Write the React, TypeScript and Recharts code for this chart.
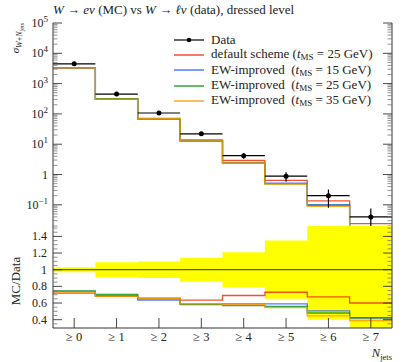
import React from 'react';
import { ComposedChart, Line, Scatter, ErrorBar, XAxis, YAxis, Area, ReferenceLine, Legend } from 'recharts';

const categories = ['≥ 0', '≥ 1', '≥ 2', '≥ 3', '≥ 4', '≥ 5', '≥ 6', '≥ 7'];
const dataValues = [4500, 450, 107, 22, 4.2, 0.88, 0.2, 0.04];
const dataErrUp = [0.03, 0.09, 0.1, 0.145, 0.21, 0.35, 0.6, 0.9];
const dataErrDown = [0.03, 0.09, 0.1, 0.145, 0.21, 0.35, 0.6, 0.9];
const mcDefault25 = [3240, 306, 70.6, 13.97, 2.9, 0.642, 0.135, 0.024];
const mcEW15 = [3330, 310.5, 67.9, 12.98, 2.48, 0.519, 0.101, 0.0168];
const mcEW25 = [3352, 317, 69.5, 12.76, 2.39, 0.493, 0.096, 0.017];
const mcEW35 = [3285, 306, 70.1, 12.98, 2.44, 0.48, 0.089, 0.0156];
const seriesNames = ['default scheme', 'EW-improved', 'EW-improved', 'EW-improved'];
const seriesTms = ['25', '15', '25', '35'];
const seriesColors = ['#ee3311', '#3366ff', '#109618', '#ff9900'];
const title = 'dressed level';

const FONT = '"Liberation Serif", "DejaVu Serif", serif';
const PLOT_L = 53;
const PLOT_R = 392;
const MAIN_TOP = 23;
const MAIN_BOT = 226;
const RATIO_TOP = 1;
const RATIO_BOT = 103;

const mcSeries = [mcDefault25, mcEW15, mcEW25, mcEW35];
const keys = ['s0', 's1', 's2', 's3'];

const stepRows: any[] = [];
const ratioRows: any[] = [];
categories.forEach((_, i) => {
  [i - 0.5, i + 0.5].forEach((x) => {
    const r: any = { x };
    const rr: any = { x };
    mcSeries.forEach((s, k) => {
      r[keys[k]] = s[i];
      rr[keys[k]] = s[i] / dataValues[i];
    });
    rr.band = [1 - dataErrDown[i], 1 + dataErrUp[i]];
    stepRows.push(r);
    ratioRows.push(rr);
  });
});

const dataPoints = categories.map((_, i) => ({
  x: i,
  y: dataValues[i],
  ex: 0.5,
  ey: [dataValues[i] * dataErrDown[i], dataValues[i] * dataErrUp[i]],
}));

const centers = categories.map((_, i) => i);

const logTicks: number[] = [];
for (let e = -2; e <= 5; e++) {
  for (let m = 1; m <= 9; m++) {
    const v = m * Math.pow(10, e);
    if (v >= 0.02 && v <= 100000) logTicks.push(Number(v.toPrecision(3)));
  }
}
const ratioTicks: number[] = [];
for (let k = 7; k <= 30; k++) ratioTicks.push(Math.round(k * 5) / 100);

const isMajorLog = (v: number) => Math.abs(Math.log10(v) - Math.round(Math.log10(v))) < 1e-6;
const isMajorRatio = (v: number) => Math.abs(v * 5 - Math.round(v * 5)) < 1e-6;

const AX = '#333';

const LogLabel = ({ x, y, v }: any) => {
  const e = Math.round(Math.log10(v));
  if (e === 0)
    return (
      <text x={x} y={y + 4} textAnchor="end" fontFamily={FONT} fontSize={12} fill="#222">1</text>
    );
  return (
    <text x={x} y={y + 4} textAnchor="end" fontFamily={FONT} fontSize={12} fill="#222">
      <tspan>10</tspan>
      <tspan dy={-5} fontSize={9}>{e < 0 ? '−' + -e : String(e)}</tspan>
    </text>
  );
};

const MainLeftTick = (props: any) => {
  const { y, payload } = props;
  const v = payload.value;
  const major = isMajorLog(v);
  return (
    <g>
      <line x1={PLOT_L} x2={PLOT_L + (major ? 9 : 4.5)} y1={y} y2={y} stroke={major ? AX : '#777'} strokeWidth={major ? 0.9 : 0.8} />
      {major && <LogLabel x={PLOT_L - 5} y={y} v={v} />}
    </g>
  );
};
const MainRightTick = (props: any) => {
  const { y, payload } = props;
  const major = isMajorLog(payload.value);
  return (
    <line x1={PLOT_R - (major ? 9 : 4.5)} x2={PLOT_R} y1={y} y2={y} stroke={major ? AX : '#777'} strokeWidth={major ? 0.9 : 0.8} />
  );
};
const RatioLeftTick = (props: any) => {
  const { y, payload } = props;
  const v = payload.value;
  const major = isMajorRatio(v);
  return (
    <g>
      <line x1={PLOT_L} x2={PLOT_L + (major ? 9 : 4.5)} y1={y} y2={y} stroke={major ? AX : '#777'} strokeWidth={major ? 0.9 : 0.8} />
      {major && (
        <text x={PLOT_L - 6} y={y + 4} textAnchor="end" fontFamily={FONT} fontSize={12} fill="#222">
          {Math.abs(v - 1) < 1e-6 ? '1' : v.toFixed(1)}
        </text>
      )}
    </g>
  );
};
const RatioRightTick = (props: any) => {
  const { y, payload } = props;
  const major = isMajorRatio(payload.value);
  return (
    <line x1={PLOT_R - (major ? 9 : 4.5)} x2={PLOT_R} y1={y} y2={y} stroke={major ? AX : '#777'} strokeWidth={major ? 0.9 : 0.8} />
  );
};
const makeXTick = (yEdge: number, dir: number, withLabel: boolean) => (props: any) => {
  const { x, payload } = props;
  return (
    <g>
      <line x1={x} x2={x} y1={yEdge} y2={yEdge + dir * 10} stroke={AX} strokeWidth={0.9} />
      {withLabel && (
        <text x={x} y={116} textAnchor="middle" fontFamily={FONT} fontSize={12.5} fill="#222">
          {categories[payload.value]}
        </text>
      )}
    </g>
  );
};

const MainYLabel = () => (
  <text transform={`translate(19, ${MAIN_TOP}) rotate(-90)`} textAnchor="end" fontFamily={FONT} fontSize={11} fill="#222">
    <tspan fontStyle="italic">σ</tspan>
    <tspan dy={3} fontSize={8}>
      <tspan fontStyle="italic">W</tspan>+<tspan fontStyle="italic">N</tspan>
    </tspan>
    <tspan dy={1.5} fontSize={6}>jets</tspan>
  </text>
);
const RatioYLabel = () => (
  <text transform={`translate(20, 56) rotate(-90)`} textAnchor="middle" fontFamily={FONT} fontSize={13} fill="#222">
    MC/Data
  </text>
);
const XLabel = () => (
  <text x={PLOT_R} y={132} textAnchor="end" fontFamily={FONT} fontSize={12.5} fill="#222">
    <tspan fontStyle="italic">N</tspan>
    <tspan dy={2.5} fontSize={8.5}>jets</tspan>
  </text>
);

const LegendContent = () => {
  const row: React.CSSProperties = { display: 'flex', alignItems: 'center', height: 15.3, whiteSpace: 'nowrap' };
  const sample = (color: string, dot: boolean) => (
    <svg width={30} height={10} style={{ marginRight: 7 }}>
      <line x1={0} x2={30} y1={5} y2={5} stroke={color} strokeWidth={dot ? 1.2 : 1.3} />
      {dot && <circle cx={15} cy={5} r={2.3} fill="#000" />}
    </svg>
  );
  return (
    <div style={{ fontFamily: FONT, fontSize: 13, color: '#222', lineHeight: '15px' }}>
      <div style={row}>{sample('#000', true)}<span>Data</span></div>
      {seriesNames.map((n, k) => (
        <div style={row} key={k}>
          {sample(seriesColors[k], false)}
          <span>
            {n}
            {k > 0 ? '\u00a0\u00a0' : ' '}(<i>t</i>
            <span style={{ fontSize: 9, position: 'relative', top: 2 }}>MS</span> = {seriesTms[k]} GeV)
          </span>
        </div>
      ))}
    </div>
  );
};

export default function App() {
  return (
    <div style={{ position: 'absolute', left: 0, top: 0, width: 404, height: 362, background: '#fff' }}>
      <div style={{ position: 'absolute', left: 53, top: 2, fontFamily: FONT, fontSize: 13, color: '#222', whiteSpace: 'nowrap' }}>
        <i>W</i> → <i>eν</i> (MC) vs <i>W</i> → <i>ℓν</i> (data), {title}
      </div>
      <div style={{ position: 'absolute', left: 0, top: 0 }}>
        <ComposedChart width={404} height={227} data={stepRows} margin={{ top: MAIN_TOP, right: 0, bottom: 1, left: 0 }}>
          <XAxis xAxisId="b" dataKey="x" type="number" domain={[-0.5, 7.5]} ticks={centers} interval={0} height={0} tickLine={false} tick={makeXTick(MAIN_BOT, -1, false)} axisLine={{ stroke: AX }} allowDataOverflow />
          <XAxis xAxisId="t" orientation="top" dataKey="x" type="number" domain={[-0.5, 7.5]} ticks={centers} interval={0} height={0} tickLine={false} tick={makeXTick(MAIN_TOP, 1, false)} axisLine={{ stroke: AX }} allowDataOverflow />
          <YAxis yAxisId="l" scale="log" type="number" domain={[0.02, 100000]} allowDataOverflow ticks={logTicks} interval={0} width={53} tickLine={false} tick={<MainLeftTick />} axisLine={{ stroke: AX }} label={{ content: <MainYLabel /> }} />
          <YAxis yAxisId="r" orientation="right" scale="log" type="number" domain={[0.02, 100000]} allowDataOverflow ticks={logTicks} interval={0} width={12} tickLine={false} tick={<MainRightTick />} axisLine={{ stroke: AX }} />
          {keys.map((k, i) => (
            <Line key={k} xAxisId="b" yAxisId="l" dataKey={k} type="linear" stroke={seriesColors[i]} strokeWidth={1.3} strokeOpacity={0.85} dot={false} isAnimationActive={false} />
          ))}
          <Scatter xAxisId="b" yAxisId="l" data={dataPoints} dataKey="y" fill="#000" isAnimationActive={false} shape={(p: any) => <circle cx={p.cx} cy={p.cy} r={2.5} fill="#000" />}>
            <ErrorBar dataKey="ey" direction="y" width={0} stroke="#000" strokeWidth={1.2} isAnimationActive={false} />
            <ErrorBar dataKey="ex" direction="x" width={0} stroke="#000" strokeWidth={1.2} isAnimationActive={false} />
          </Scatter>
          <Legend layout="vertical" align="center" verticalAlign="middle" content={<LegendContent />} wrapperStyle={{ left: 174, top: 32, width: 220, height: 80 }} />
        </ComposedChart>
      </div>
      <div style={{ position: 'absolute', left: 0, top: 225 }}>
        <ComposedChart width={404} height={137} data={ratioRows} margin={{ top: RATIO_TOP, right: 0, bottom: 0, left: 0 }}>
          <XAxis xAxisId="b" dataKey="x" type="number" domain={[-0.5, 7.5]} ticks={centers} interval={0} height={34} tickLine={false} tick={makeXTick(RATIO_BOT, -1, true)} axisLine={{ stroke: AX }} allowDataOverflow label={{ content: <XLabel /> }} />
          <XAxis xAxisId="t" orientation="top" dataKey="x" type="number" domain={[-0.5, 7.5]} ticks={centers} interval={0} height={0} tickLine={false} tick={makeXTick(RATIO_TOP, 1, false)} axisLine={{ stroke: AX }} allowDataOverflow />
          <YAxis yAxisId="l" type="number" domain={[0.3, 1.525]} allowDataOverflow ticks={ratioTicks} interval={0} width={53} tickLine={false} tick={<RatioLeftTick />} axisLine={{ stroke: AX }} label={{ content: <RatioYLabel /> }} />
          <YAxis yAxisId="r" orientation="right" type="number" domain={[0.3, 1.525]} allowDataOverflow ticks={ratioTicks} interval={0} width={12} tickLine={false} tick={<RatioRightTick />} axisLine={{ stroke: AX }} />
          <Area xAxisId="b" yAxisId="l" dataKey="band" type="linear" fill="#ffff00" fillOpacity={1} stroke="none" isAnimationActive={false} />
          <ReferenceLine xAxisId="b" yAxisId="l" y={1} stroke="#333" strokeWidth={1} />
          {keys.map((k, i) => (
            <Line key={k} xAxisId="b" yAxisId="l" dataKey={k} type="linear" stroke={seriesColors[i]} strokeWidth={1.3} strokeOpacity={0.85} dot={false} isAnimationActive={false} />
          ))}
        </ComposedChart>
      </div>
    </div>
  );
}
